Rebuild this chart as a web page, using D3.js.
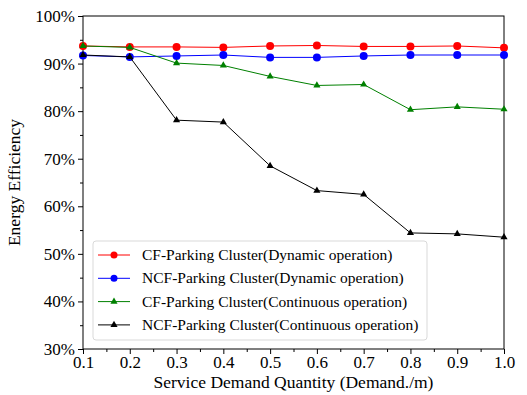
<!DOCTYPE html>
<html>
<head>
<meta charset="utf-8">
<script src="https://cdn.jsdelivr.net/npm/d3@7"></script>
<style>
  body { margin: 0; background: #fff; }
</style>
</head>
<body>
<div id="chart"></div>
<script>
var demand = [0.1, 0.2, 0.3, 0.4, 0.5, 0.6, 0.7, 0.8, 0.9, 1.0];
var cfDynamic = [93.7, 93.5, 93.5, 93.4, 93.7, 93.8, 93.6, 93.6, 93.7, 93.3];
var ncfDynamic = [91.7, 91.4, 91.6, 91.8, 91.3, 91.3, 91.6, 91.8, 91.8, 91.8];
var cfContinuous = [93.7, 93.4, 90.1, 89.6, 87.3, 85.4, 85.6, 80.3, 80.9, 80.4];
var ncfContinuous = [91.8, 91.4, 78.1, 77.7, 68.5, 63.3, 62.5, 54.4, 54.2, 53.5];
var seriesNames = [
  "CF-Parking Cluster(Dynamic operation)",
  "NCF-Parking Cluster(Dynamic operation)",
  "CF-Parking Cluster(Continuous operation)",
  "NCF-Parking Cluster(Continuous operation)"
];
var xTicks = [0.1, 0.2, 0.3, 0.4, 0.5, 0.6, 0.7, 0.8, 0.9, 1.0];
var yTicks = [30, 40, 50, 60, 70, 80, 90, 100];

var FONT = "Liberation Serif";

var series = [
  { name: seriesNames[0], values: cfDynamic, color: "#ff0000", marker: "circle" },
  { name: seriesNames[1], values: ncfDynamic, color: "#0000ff", marker: "circle" },
  { name: seriesNames[2], values: cfContinuous, color: "#008000", marker: "triangle" },
  { name: seriesNames[3], values: ncfContinuous, color: "#000000", marker: "triangle" }
];

var margin = { top: 16, right: 23, bottom: 46, left: 83 },
  width = 527 - margin.left - margin.right,
  height = 395 - margin.top - margin.bottom;

var svg = d3.select("#chart")
  .append("svg")
  .attr("width", 527)
  .attr("height", 395)
  .append("g")
  .attr("transform", "translate(" + margin.left + "," + margin.top + ")");

var x = d3.scaleLinear().domain([0.1, 1.0]).range([0, width]);
var y = d3.scaleLinear().domain([30, 100]).range([height, 0]);

// minor ticks
svg.append("g")
  .attr("transform", "translate(0," + height + ")")
  .call(d3.axisBottom(x).tickValues(d3.range(0.15, 1.0, 0.1)).tickSize(3).tickFormat(""))
  .call(function (g) { g.select(".domain").remove(); });
svg.append("g")
  .call(d3.axisLeft(y).tickValues(d3.range(35, 100, 10)).tickSize(3).tickFormat(""))
  .call(function (g) { g.select(".domain").remove(); });

var xAxis = svg.append("g")
  .attr("transform", "translate(0," + height + ")")
  .call(d3.axisBottom(x).tickValues(xTicks).tickSize(5).tickPadding(2).tickFormat(d3.format(".1f")));

var yAxis = svg.append("g")
  .call(d3.axisLeft(y).tickValues(yTicks).tickSize(5).tickPadding(3).tickFormat(function (d) { return d + "%"; }));

[xAxis, yAxis].forEach(function (a) {
  a.attr("font-family", null).attr("font-size", null);
  a.selectAll("text")
    .style("font-family", FONT)
    .style("font-size", "17px")
    .attr("fill", "#000");
});

svg.selectAll(".domain").remove();
svg.append("rect")
  .attr("width", width).attr("height", height)
  .attr("fill", "none").attr("stroke", "#000").attr("stroke-width", 1);

var line = d3.line()
  .x(function (d, i) { return x(demand[i]); })
  .y(function (d) { return y(d); });

var tri = d3.symbol().type(d3.symbolTriangle).size(22);

series.forEach(function (s) {
  var g = svg.append("g");
  g.append("path")
    .datum(s.values)
    .attr("d", line)
    .attr("fill", "none")
    .attr("stroke", s.color)
    .attr("stroke-width", 1);
  if (s.marker == "circle") {
    g.selectAll("circle").data(s.values).enter().append("circle")
      .attr("cx", function (d, i) { return x(demand[i]); })
      .attr("cy", function (d) { return y(d); })
      .attr("r", 4)
      .attr("fill", s.color);
  } else {
    g.selectAll(".tri").data(s.values).enter().append("path")
      .attr("d", tri)
      .attr("transform", function (d, i) { return "translate(" + x(demand[i]) + "," + y(d) + ")"; })
      .attr("fill", s.color);
  }
});

// legend
var legend = svg.append("g").attr("transform", "translate(10,225)");
legend.append("rect")
  .attr("width", 334).attr("height", 99)
  .attr("rx", 3)
  .attr("fill", "#fff").attr("fill-opacity", 0.8)
  .attr("stroke", "#d9d9d9");
series.forEach(function (s, i) {
  var row = legend.append("g").attr("transform", "translate(0," + (14 + i * 23.3) + ")");
  row.append("line").attr("x1", 5).attr("x2", 37).attr("y1", 0).attr("y2", 0)
    .attr("stroke", s.color).attr("stroke-width", 1);
  if (s.marker == "circle") {
    row.append("circle").attr("cx", 21).attr("cy", 0).attr("r", 3.5).attr("fill", s.color);
  } else {
    row.append("path").attr("d", tri).attr("transform", "translate(21,0)").attr("fill", s.color);
  }
  row.append("text").attr("x", 49).attr("y", 5)
    .style("font-family", FONT)
    .style("font-size", "15.5px").attr("fill", "#000")
    .text(s.name);
});

svg.append("text")
  .attr("x", width / 2).attr("y", height + 39)
  .attr("text-anchor", "middle")
  .style("font-family", FONT)
  .style("font-size", "17.5px")
  .text("Service Demand Quantity (Demand./m)");

svg.append("text")
  .attr("transform", "rotate(-90)")
  .attr("x", -height / 2).attr("y", -63)
  .attr("text-anchor", "middle")
  .style("font-family", FONT)
  .style("font-size", "17.5px")
  .text("Energy Efficiency");
</script>
</body>
</html>
